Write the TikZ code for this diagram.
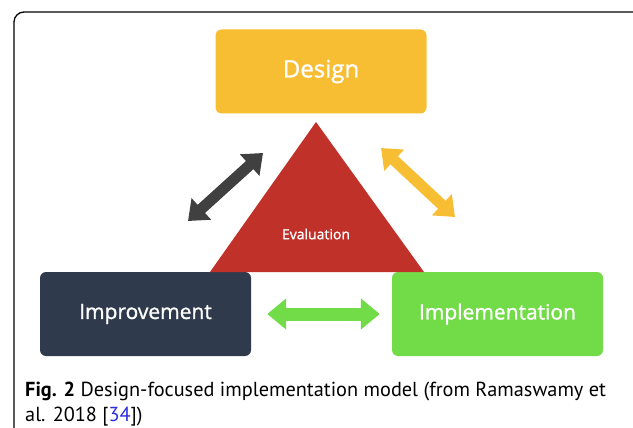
\documentclass[tikz,border=0pt]{standalone}
\usepackage{fontspec}
\setmainfont{PT Sans}
\newfontfamily\boxfont[FakeBold=1.2]{Open Sans}
\usetikzlibrary{arrows.meta,positioning}
\definecolor{designyellow}{HTML}{F7BE33}
\definecolor{evalred}{HTML}{C0312A}
\definecolor{impnavy}{HTML}{2F3A4D}
\definecolor{impgreen}{HTML}{72DC48}
\definecolor{arrowgrey}{HTML}{404040}
\definecolor{refblue}{HTML}{2B2BE0}
\tikzset{
  stagebox/.style={rounded corners=6pt, minimum width=211pt, minimum height=84pt,
    inner sep=0pt, text=white, font=\boxfont\fontsize{21}{24}\selectfont},
  bigarrow/.style={line width=12pt, {Triangle[width=28pt,length=18pt]}-{Triangle[width=28pt,length=18pt]}},
}
\begin{document}
\begin{tikzpicture}[x=1pt,y=1pt]
\useasboundingbox (0,0) rectangle (633,-428);
\begin{scope}
\clip (0,0) rectangle (633,-428);
\draw [black, line width=1.3pt, rounded corners=10pt] (14,-12) rectangle (660,-450);
\end{scope}
% the three stages
\node [stagebox, fill=designyellow, font=\boxfont\fontsize{24}{28}\selectfont] (design) at (321,-71.5) {Design};
\node [stagebox, fill=impnavy] (improvement) at (145.5,-314) {Improvement};
\node [stagebox, fill=impgreen] (implementation) at (497.5,-314) {Implementation};
% evaluation in the middle
\coordinate (apex) at (316,-122);
\coordinate (baseleft) at (210,-272);
\coordinate (baseright) at (424,-272);
\fill [evalred] (apex) -- (baseright) -- (baseleft) -- cycle;
\node [text=white, font=\boxfont\fontsize{14}{16}\selectfont] (evaluation) at (316,-234) {Evaluation};
% arrows between the stages
\coordinate (greyend) at (188,-221);
\coordinate (greytip) at (263,-153);
\coordinate (yellowtip) at (381,-148);
\coordinate (yellowend) at (455,-217);
\draw [bigarrow, arrowgrey, line width=11pt] (greyend) -- (greytip);
\draw [bigarrow, designyellow, line width=11pt] (yellowtip) -- (yellowend);
\draw [bigarrow, impgreen, line width=13pt, {Triangle[width=30pt,length=19pt]}-{Triangle[width=30pt,length=19pt]}] ([xshift=16pt]improvement.east) -- ([xshift=-12pt]implementation.west);
% caption
\node [anchor=base west, inner sep=0pt, font=\fontsize{20.3}{24}\selectfont] (caption) at (25,-396)
  {\textbf{Fig. 2} Design-focused implementation model (from Ramaswamy et};
\node [anchor=base west, inner sep=0pt, font=\fontsize{20.3}{24}\selectfont] (captiontwo) at (25,-421)
  {al. 2018 [\textcolor{refblue}{34}])};
\end{tikzpicture}
\end{document}
